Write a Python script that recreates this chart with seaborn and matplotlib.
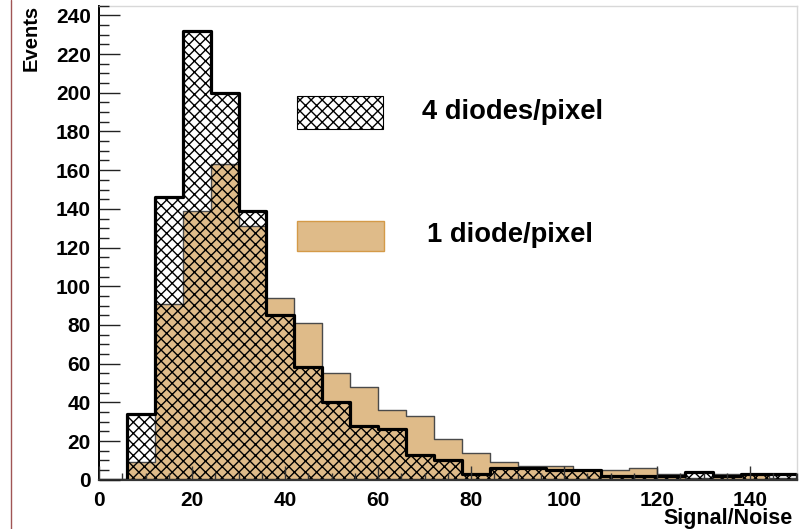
import numpy as np
import pandas as pd
import matplotlib
matplotlib.use("Agg")
import matplotlib.pyplot as plt
from matplotlib.patches import Rectangle
from matplotlib.ticker import MultipleLocator
import seaborn as sns

# Signal/Noise histogram binning (width 6, 0..150)
bin_edges = list(range(0, 151, 6))
bin_centers = [(a + b) / 2 for a, b in zip(bin_edges[:-1], bin_edges[1:])]

# Event counts per bin
four_diodes = [0, 34, 146, 232, 200, 139, 85, 58, 40, 28, 26, 13, 10,
               3, 6, 6, 5, 5, 2, 2, 2, 4, 2, 3, 3]
one_diode = [0, 9, 91, 139, 163, 131, 94, 81, 55, 48, 36, 33, 21,
             14, 9, 7, 7, 5, 5, 6, 3, 1, 3, 3, 1]

label_four = "4 diodes/pixel"
label_one = "1 diode/pixel"
x_title = "Signal/Noise"
y_title = "Events"

tan = "#dfbb89"

df = pd.DataFrame({"sn": bin_centers, "four": four_diodes, "one": one_diode})

sns.set_theme(style="ticks")
plt.rcParams["font.family"] = ["Liberation Sans", "DejaVu Sans"]
plt.rcParams["font.weight"] = "bold"
plt.rcParams["text.color"] = "black"
plt.rcParams["xtick.labelcolor"] = "black"
plt.rcParams["ytick.labelcolor"] = "black"
plt.rcParams["hatch.linewidth"] = 1.0
plt.rcParams["hatch.color"] = "black"

fig = plt.figure(figsize=(8.03, 5.29), dpi=100)
ax = fig.add_axes([0.1233, 0.0932, 0.8689, 0.896])

# 1 diode/pixel: filled step histogram
sns.histplot(data=df, x="sn", weights="one", bins=bin_edges, element="step",
             fill=True, color=tan, facecolor=tan, edgecolor="#4a4a4a",
             linewidth=1.0, ax=ax, zorder=1)

# 4 diodes/pixel: cross-hatched step histogram with heavy outline
sns.histplot(data=df, x="sn", weights="four", bins=bin_edges, element="step",
             fill=True, color="black", facecolor="none", edgecolor="black",
             hatch="xxx", linewidth=2.3, ax=ax, zorder=2)

ax.set_xlim(0, 150)
ax.set_ylim(0, 245)
ax.set_xlabel("")
ax.set_ylabel("")
ax.set_axisbelow(False)

ax.xaxis.set_major_locator(MultipleLocator(20))
ax.xaxis.set_minor_locator(MultipleLocator(5))
ax.yaxis.set_major_locator(MultipleLocator(20))
ax.yaxis.set_minor_locator(MultipleLocator(5))

ax.tick_params(axis="y", which="major", direction="in", length=15, width=1.0,
               color="#222222", labelsize=15, pad=6, labelcolor="black")
ax.tick_params(axis="y", which="minor", direction="in", length=7.5, width=1.0,
               color="#222222")
ax.tick_params(axis="x", which="major", direction="in", length=10, width=1.0,
               color="#333333", labelsize=15, pad=8, labelcolor="black")
ax.tick_params(axis="x", which="minor", direction="in", length=5, width=1.0,
               color="#333333")
for lab in ax.get_xticklabels() + ax.get_yticklabels():
    lab.set_fontweight("bold")

ax.spines["left"].set_color("black")
ax.spines["left"].set_linewidth(1.4)
ax.spines["bottom"].set_color("#333333")
ax.spines["bottom"].set_linewidth(1.6)
for side in ("top", "right"):
    ax.spines[side].set_visible(True)
    ax.spines[side].set_color("#d8d8d8")
    ax.spines[side].set_linewidth(1.0)

# Legend entries
ax.add_patch(Rectangle((0.284, 0.740), 0.1233, 0.0703, transform=ax.transAxes,
                       facecolor="white", edgecolor="black", hatch="xxx",
                       linewidth=0.8, zorder=5))
ax.add_patch(Rectangle((0.284, 0.4831), 0.1247, 0.0633, transform=ax.transAxes,
                       facecolor=tan, edgecolor="#d49a48", linewidth=1.0,
                       zorder=5))
ax.text(0.4625, 0.776, label_four, transform=ax.transAxes, fontsize=19.7,
        fontweight="bold", va="center", ha="left", color="black")
ax.text(0.4697, 0.516, label_one, transform=ax.transAxes, fontsize=19.7,
        fontweight="bold", va="center", ha="left", color="black")

# Axis titles
fig.text(793 / 803, 1 - 524 / 529, x_title, fontsize=15.5, fontweight="bold",
         ha="right", va="baseline", color="black")
fig.text(31 / 803, 1 - 5 / 529, y_title, fontsize=14.5, fontweight="bold",
         rotation=90, ha="center", va="top", color="black")

# Canvas border line on the left
fig.add_artist(plt.Line2D([11 / 803, 11 / 803], [0, 1], transform=fig.transFigure,
                          color="#a05555", linewidth=1.0))

fig.savefig("out.png", dpi=100)
